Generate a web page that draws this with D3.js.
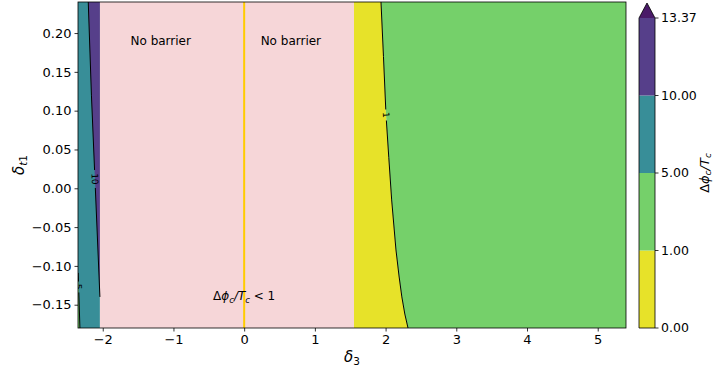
<!DOCTYPE html>
<html>
<head>
<meta charset="utf-8">
<script src="https://cdn.jsdelivr.net/npm/d3@7"></script>
<style>
body { margin: 0; background: #fff; }
text { font-family: "DejaVu Sans", sans-serif; fill: #000; }
</style>
</head>
<body>
<div id="chart"></div>
<script>
// axis ranges and ticks
const xDomain = [-2.35, 5.4];
const yDomain = [-0.18, 0.24];
const xTicks = [-2, -1, 0, 1, 2, 3, 4, 5];
const yTicks = [-0.15, -0.10, -0.05, 0.00, 0.05, 0.10, 0.15, 0.20];

// "no barrier" band in delta_3
const noBarrier = [-2.04, 1.553];
const gaugeLine = 0;

// contour lines, [delta_3, delta_t1]
const contour1 = [[1.935, 0.24], [1.97, 0.17], [2.006, 0.0945], [2.045, 0.04], [2.086, -0.015], [2.147, -0.0795], [2.19, -0.113], [2.23, -0.14], [2.272, -0.162], [2.317, -0.18]];
const contour10 = [[-2.205, 0.24], [-2.16, 0.12], [-2.11, 0.011], [-2.04, -0.14]];
const contour5 = [[-2.347, -0.109], [-2.323, -0.18]];

// contour labels
const clabels = [
    {text: '1', line: contour1, at: [2.006, 0.0945]},
    {text: '10', line: contour10, at: [-2.11, 0.012]},
    {text: '5', line: contour5, at: [-2.342, -0.127]}
];

// colour levels
const levels = [0, 1, 5, 10, 13.37];
const levelColors = ['#e7e229', '#75d06a', '#388e98', '#563f8a'];
const overColor = '#4a1a68';

const notes = [
    {text: 'No barrier', x: -1.18, y: 0.19},
    {text: 'No barrier', x: 0.66, y: 0.19}
];

const W = 713, H = 369;
const m = {left: 78, top: 2, right: 626, bottom: 328};

const svg = d3.select('#chart').append('svg')
    .attr('width', W)
    .attr('height', H);

const x = d3.scaleLinear().domain(xDomain).range([m.left, m.right]);
const y = d3.scaleLinear().domain(yDomain).range([m.bottom, m.top]);

const defs = svg.append('defs');
defs.append('clipPath').attr('id', 'plot-clip')
    .append('rect')
    .attr('x', m.left).attr('y', m.top)
    .attr('width', m.right - m.left).attr('height', m.bottom - m.top);

const plot = svg.append('g').attr('clip-path', 'url(#plot-clip)');

const line = d3.line().x(d => x(d[0])).y(d => y(d[1]));
const poly = pts => line(pts) + 'Z';

// base fill left of the band
plot.append('rect')
    .attr('x', x(xDomain[0])).attr('y', y(yDomain[1]))
    .attr('width', x(noBarrier[0]) - x(xDomain[0]))
    .attr('height', y(yDomain[0]) - y(yDomain[1]))
    .attr('fill', levelColors[2]);

// purple band right of the 10 contour
plot.append('path')
    .attr('d', poly(contour10.concat([[noBarrier[0], yDomain[1]]])))
    .attr('fill', levelColors[3]);

// green sliver left of the 5 contour
plot.append('path')
    .attr('d', poly(contour5.concat([[xDomain[0] - 0.05, yDomain[0]], [xDomain[0] - 0.05, contour5[0][1]]])))
    .attr('fill', levelColors[1]);

// yellow then green on the right
plot.append('path')
    .attr('d', poly([[noBarrier[1], yDomain[1]]].concat(contour1, [[noBarrier[1], yDomain[0]]])))
    .attr('fill', levelColors[0]);
plot.append('path')
    .attr('d', poly(contour1.concat([[xDomain[1], yDomain[0]], [xDomain[1], yDomain[1]]])))
    .attr('fill', levelColors[1]);

// no barrier band
plot.append('rect')
    .attr('x', x(noBarrier[0])).attr('y', y(yDomain[1]))
    .attr('width', x(noBarrier[1]) - x(noBarrier[0]))
    .attr('height', y(yDomain[0]) - y(yDomain[1]))
    .attr('fill', '#f6d6d8');

// contour lines with gaps at labels
const mask = defs.append('mask').attr('id', 'label-gaps');
mask.append('rect').attr('width', W).attr('height', H).attr('fill', '#fff');

function labelAngle(lbl) {
    const pts = lbl.line.map(d => [x(d[0]), y(d[1])]);
    const py = y(lbl.at[1]);
    let best = 0, bd = Infinity;
    for (let i = 0; i < pts.length - 1; i++) {
        const d = Math.abs((pts[i][1] + pts[i + 1][1]) / 2 - py);
        if (d < bd) { bd = d; best = i; }
    }
    const a = pts[best], b = pts[best + 1];
    return Math.atan2(b[1] - a[1], b[0] - a[0]) * 180 / Math.PI;
}

clabels.forEach(l => {
    const ang = labelAngle(l);
    const half = l.text.length * 3.5 + 2;
    mask.append('rect')
        .attr('x', -half).attr('y', -4).attr('width', half * 2).attr('height', 8)
        .attr('fill', '#000')
        .attr('transform', `translate(${x(l.at[0])},${y(l.at[1])}) rotate(${ang})`);
});

const lines = plot.append('g').attr('mask', 'url(#label-gaps)');
[contour1, contour10, contour5].forEach(c => {
    lines.append('path')
        .attr('d', line(c))
        .attr('fill', 'none')
        .attr('stroke', '#000')
        .attr('stroke-width', 1);
});

clabels.forEach(l => {
    plot.append('text')
        .attr('transform', `translate(${x(l.at[0])},${y(l.at[1])}) rotate(${labelAngle(l)})`)
        .attr('text-anchor', 'middle')
        .attr('dy', '0.35em')
        .attr('font-size', 9)
        .text(l.text);
});

// gold line at delta_3 = 0
plot.append('line')
    .attr('x1', x(gaugeLine)).attr('x2', x(gaugeLine))
    .attr('y1', y(yDomain[0])).attr('y2', y(yDomain[1]))
    .attr('stroke', '#ffcc00')
    .attr('stroke-width', 2);

// annotations
notes.forEach(n => {
    plot.append('text')
        .attr('x', x(n.x)).attr('y', y(n.y))
        .attr('text-anchor', 'middle')
        .attr('dy', '0.35em')
        .attr('font-size', 12)
        .text(n.text);
});

const ineq = plot.append('text')
    .attr('x', x(0.0)).attr('y', y(-0.139))
    .attr('text-anchor', 'middle')
    .attr('dy', '0.35em')
    .attr('font-size', 12);
ineq.append('tspan').text('Δ');
ineq.append('tspan').attr('font-style', 'italic').text('ϕ');
ineq.append('tspan').attr('font-size', 8.5).attr('dy', 3).attr('font-style', 'italic').text('c');
ineq.append('tspan').attr('dy', -3).attr('font-style', 'italic').text('/T');
ineq.append('tspan').attr('font-size', 8.5).attr('dy', 3).attr('font-style', 'italic').text('c');
ineq.append('tspan').attr('dy', -3).text(' < 1');

// axes
const fmtMinus = s => s.replace('-', '\u2212');
const xAxis = svg.append('g')
    .attr('transform', `translate(0,${m.bottom})`)
    .call(d3.axisBottom(x).tickValues(xTicks).tickSize(3.5).tickPadding(3)
        .tickFormat(d => fmtMinus(d3.format('d')(d))));
const yAxis = svg.append('g')
    .attr('transform', `translate(${m.left},0)`)
    .call(d3.axisLeft(y).tickValues(yTicks).tickSize(3.5).tickPadding(3)
        .tickFormat(d => fmtMinus(d3.format('.2f')(d))));
[xAxis, yAxis].forEach(a => {
    a.selectAll('.domain').remove();
    a.selectAll('text').attr('font-size', 13).attr('font-family', '"DejaVu Sans", sans-serif');
    a.selectAll('line').attr('stroke', '#000').attr('stroke-width', 0.8);
});

svg.append('rect')
    .attr('x', m.left).attr('y', m.top)
    .attr('width', m.right - m.left).attr('height', m.bottom - m.top)
    .attr('fill', 'none').attr('stroke', '#000').attr('stroke-width', 0.8);

// axis labels
const xl = svg.append('text')
    .attr('x', (m.left + m.right) / 2).attr('y', 362)
    .attr('text-anchor', 'middle')
    .attr('font-size', 15);
xl.append('tspan').attr('font-style', 'italic').text('δ');
xl.append('tspan').attr('font-size', 10.5).attr('dy', 3).text('3');

const yl = svg.append('text')
    .attr('transform', `translate(24,${(m.top + m.bottom) / 2}) rotate(-90)`)
    .attr('text-anchor', 'middle')
    .attr('font-size', 15);
yl.append('tspan').attr('font-style', 'italic').text('δ');
yl.append('tspan').attr('font-size', 10.5).attr('dy', 3).attr('font-style', 'italic').text('t');
yl.append('tspan').attr('font-size', 10.5).text('1');

// colorbar
const cb = {x0: 639, x1: 655, top: 18, bottom: 328, tip: 3};
const cy = d3.scaleLinear().domain([0, levels.length - 1]).range([cb.bottom, cb.top]);
const cbar = svg.append('g');
levelColors.forEach((c, i) => {
    cbar.append('rect')
        .attr('x', cb.x0).attr('y', cy(i + 1))
        .attr('width', cb.x1 - cb.x0).attr('height', cy(i) - cy(i + 1))
        .attr('fill', c);
});
cbar.append('path')
    .attr('d', `M${cb.x0},${cb.top}L${(cb.x0 + cb.x1) / 2},${cb.tip}L${cb.x1},${cb.top}Z`)
    .attr('fill', overColor);
cbar.append('path')
    .attr('d', `M${cb.x0},${cb.bottom}L${cb.x0},${cb.top}L${(cb.x0 + cb.x1) / 2},${cb.tip}L${cb.x1},${cb.top}L${cb.x1},${cb.bottom}Z`)
    .attr('fill', 'none').attr('stroke', '#000').attr('stroke-width', 0.8);
levels.forEach((v, i) => {
    cbar.append('line')
        .attr('x1', cb.x1).attr('x2', cb.x1 + 3.5)
        .attr('y1', cy(i)).attr('y2', cy(i))
        .attr('stroke', '#000').attr('stroke-width', 0.8);
    cbar.append('text')
        .attr('x', cb.x1 + 6).attr('y', cy(i))
        .attr('dy', '0.35em')
        .attr('font-size', 12.5)
        .text(v.toFixed(2));
});
const cl = svg.append('text')
    .attr('transform', `translate(709,${(cb.top + cb.bottom) / 2}) rotate(-90)`)
    .attr('text-anchor', 'middle')
    .attr('font-size', 13);
cl.append('tspan').text('Δ');
cl.append('tspan').attr('font-style', 'italic').text('ϕ');
cl.append('tspan').attr('font-size', 9).attr('dy', 2).attr('font-style', 'italic').text('c');
cl.append('tspan').attr('dy', -2).attr('font-style', 'italic').text('/T');
cl.append('tspan').attr('font-size', 9).attr('dy', 2).attr('font-style', 'italic').text('c');
</script>
</body>
</html>
